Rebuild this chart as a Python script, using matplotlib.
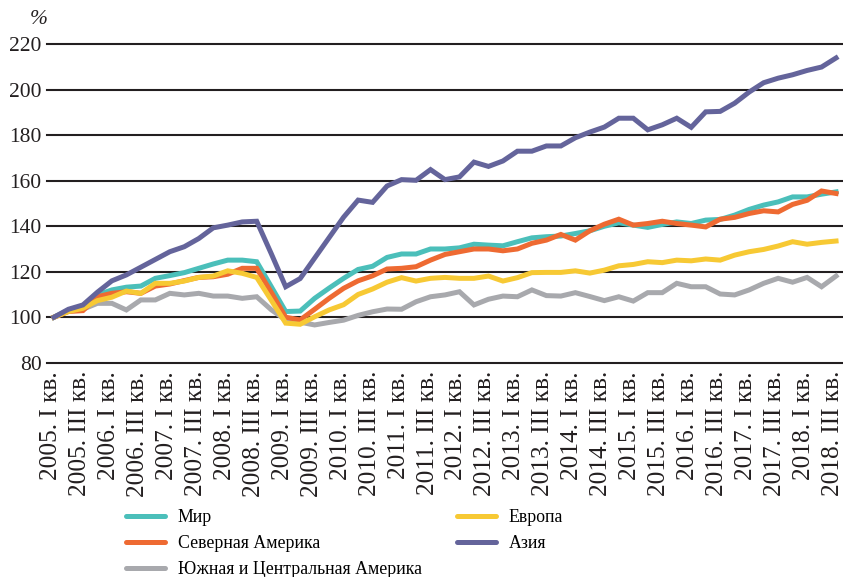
import matplotlib
matplotlib.use("Agg")
import matplotlib.pyplot as plt
import matplotlib.transforms as mtransforms
import numpy as np

# quarters 2005 Q1 .. 2018 Q3
years = list(range(2005, 2019))
quarter_names = ["I", "II", "III", "IV"]
quarters = [f"{y}. {q} кв." for y in years for q in quarter_names][:55]

world = [100, 103, 105, 109.8, 112, 113.2, 113.7, 117.1, 118.3, 119.6, 121.5, 123.4, 125.1, 125.1, 124.4,
         113.5, 102.5, 102.7, 108.3, 112.8, 117.1, 121, 122.4, 126.3, 127.8, 127.8, 130, 130, 130.5, 132.1,
         131.7, 131.4, 133.2, 134.9, 135.4, 135.7, 136.8, 138, 140, 141.5, 140.5, 139.5, 140.8, 141.9, 141.2,
         142.7, 143, 144.9, 147.4, 149.3, 150.7, 152.9, 152.9, 154.1, 155.1]
north_america = [100, 102.5, 102.9, 109, 110.5, 111.2, 110.5, 113.7, 114.6, 116.1, 117.5, 117.8, 118.9, 121.5, 121.5,
                 111, 100, 98.8, 103.5, 108.3, 112.7, 116, 118.2, 121.2, 121.5, 122.2, 125.1, 127.6, 128.8, 130,
                 130, 129.2, 130, 132.5, 133.9, 136.4, 133.9, 138, 140.9, 143.1, 140.5, 141.2, 142.2, 141.2, 140.5,
                 139.7, 143.1, 143.9, 145.6, 146.8, 146.3, 149.6, 151.4, 155.5, 154.4]
south_central_america = [100, 102.9, 103.5, 106.1, 106.1, 103.2, 107.6, 107.6, 110.5, 109.8, 110.5, 109.3, 109.3, 108.3, 109,
                         103.3, 98.8, 97.8, 96.6, 97.7, 98.7, 100.8, 102.4, 103.6, 103.5, 106.8, 109, 109.8, 111.2, 105.4,
                         107.9, 109.3, 109, 112, 109.5, 109.3, 110.8, 109.1, 107.3, 109, 107.1, 110.8, 110.8, 114.9, 113.4,
                         113.4, 110.2, 109.8, 112, 114.9, 117.1, 115.4, 117.5, 113.4, 118.1]
europe = [100, 102.5, 103.9, 107.3, 108.8, 111.5, 110.5, 114.9, 114.9, 115.9, 117.5, 118.1, 120.4, 119.3, 117.5,
          107.5, 97.4, 96.9, 100.2, 103.2, 105.5, 110, 112.4, 115.4, 117.4, 115.9, 117.1, 117.5, 117.1, 117.1,
          118.1, 115.9, 117.4, 119.6, 119.7, 119.7, 120.4, 119.4, 120.7, 122.6, 123.2, 124.4, 124, 125.1, 124.8,
          125.6, 125.1, 127.3, 128.8, 129.8, 131.3, 133.2, 132.1, 132.9, 133.5]
asia = [100, 103.5, 105.4, 111, 116, 118.6, 122, 125.4, 128.8, 131, 134.6, 139.3, 140.5, 141.9, 142.2,
        128, 113.4, 117, 126, 135, 144, 151.5, 150.5, 157.7, 160.5, 160.2, 164.9, 160.5, 161.7, 168.2,
        166.3, 168.7, 173, 173, 175.3, 175.3, 178.9, 181.4, 183.6, 187.5, 187.5, 182.4, 184.6, 187.5, 183.5,
        190.3, 190.5, 194.1, 199, 203.1, 205.1, 206.6, 208.5, 210, 214]

series_names = ["Мир", "Северная Америка", "Южная и Центральная Америка", "Европа", "Азия"]
y_ticks = [80, 100, 120, 140, 160, 180, 200, 220]

colors = {
    "world": "#4BBFBA",
    "na": "#EE6A32",
    "sca": "#A8A9AD",
    "eu": "#F7C934",
    "asia": "#64649B",
}

plt.rcParams["font.family"] = ["Liberation Serif", "DejaVu Serif"]

fig = plt.figure(figsize=(8.43, 5.77), dpi=100)
W, H = 843, 577
left, right = 47 / W, 843 / W
bottom, top = (H - 362.7) / H, (H - 44.3) / H
ax = fig.add_axes([left, bottom, right - left, top - bottom])

x = np.arange(len(quarters))
lw = 3.6
l_sca, = ax.plot(x, south_central_america, color=colors["sca"], lw=lw, zorder=3, solid_joinstyle="miter")
l_w, = ax.plot(x, world, color=colors["world"], lw=lw, zorder=4, solid_joinstyle="miter")
l_na, = ax.plot(x, north_america, color=colors["na"], lw=lw, zorder=5, solid_joinstyle="miter")
l_eu, = ax.plot(x, europe, color=colors["eu"], lw=lw, zorder=6, solid_joinstyle="miter")
l_as, = ax.plot(x, asia, color=colors["asia"], lw=lw, zorder=7, solid_joinstyle="miter")

for yv in y_ticks:
    ax.axhline(yv, color="#231F20", lw=1.5, zorder=1, clip_on=False)

ax.set_xlim(-0.48, len(quarters) - 1 + 0.48)
ax.set_ylim(80, 220)
ax.set_yticks(y_ticks)
ax.set_yticklabels([str(v) for v in y_ticks], fontsize=15.5, color="#231F20")
ax.set_xticks(x[::2])
ax.set_xticklabels(quarters[::2], rotation=90, fontsize=18.3, color="#231F20", va="top", ha="center")
ax.tick_params(axis="both", length=0)
ax.tick_params(axis="y", pad=4)
ax.tick_params(axis="x", pad=6)
for s in ax.spines.values():
    s.set_visible(False)

# nudge x tick labels slightly left, as in the reference
shift = mtransforms.ScaledTranslation(-3 / 100, 0, fig.dpi_scale_trans)
for lab in ax.get_xticklabels():
    lab.set_transform(lab.get_transform() + shift)

fig.text(39 / W, 1 - 19 / H, "%", fontsize=15.5, style="italic", ha="center", va="center", color="#231F20")

handles = [l_w, l_na, l_sca, l_eu, l_as]
leg = fig.legend(handles, series_names, ncol=2, loc="upper left",
                 bbox_to_anchor=(126 / W, 1 - 509 / H), frameon=False,
                 fontsize=12.8, handlelength=2.2, handletextpad=0.7,
                 columnspacing=2.0, labelspacing=0.5, borderpad=0, borderaxespad=0)
for h in leg.get_lines():
    h.set_linewidth(3.6)
    h.set_solid_capstyle("round")

fig.savefig("out.png", dpi=100)
